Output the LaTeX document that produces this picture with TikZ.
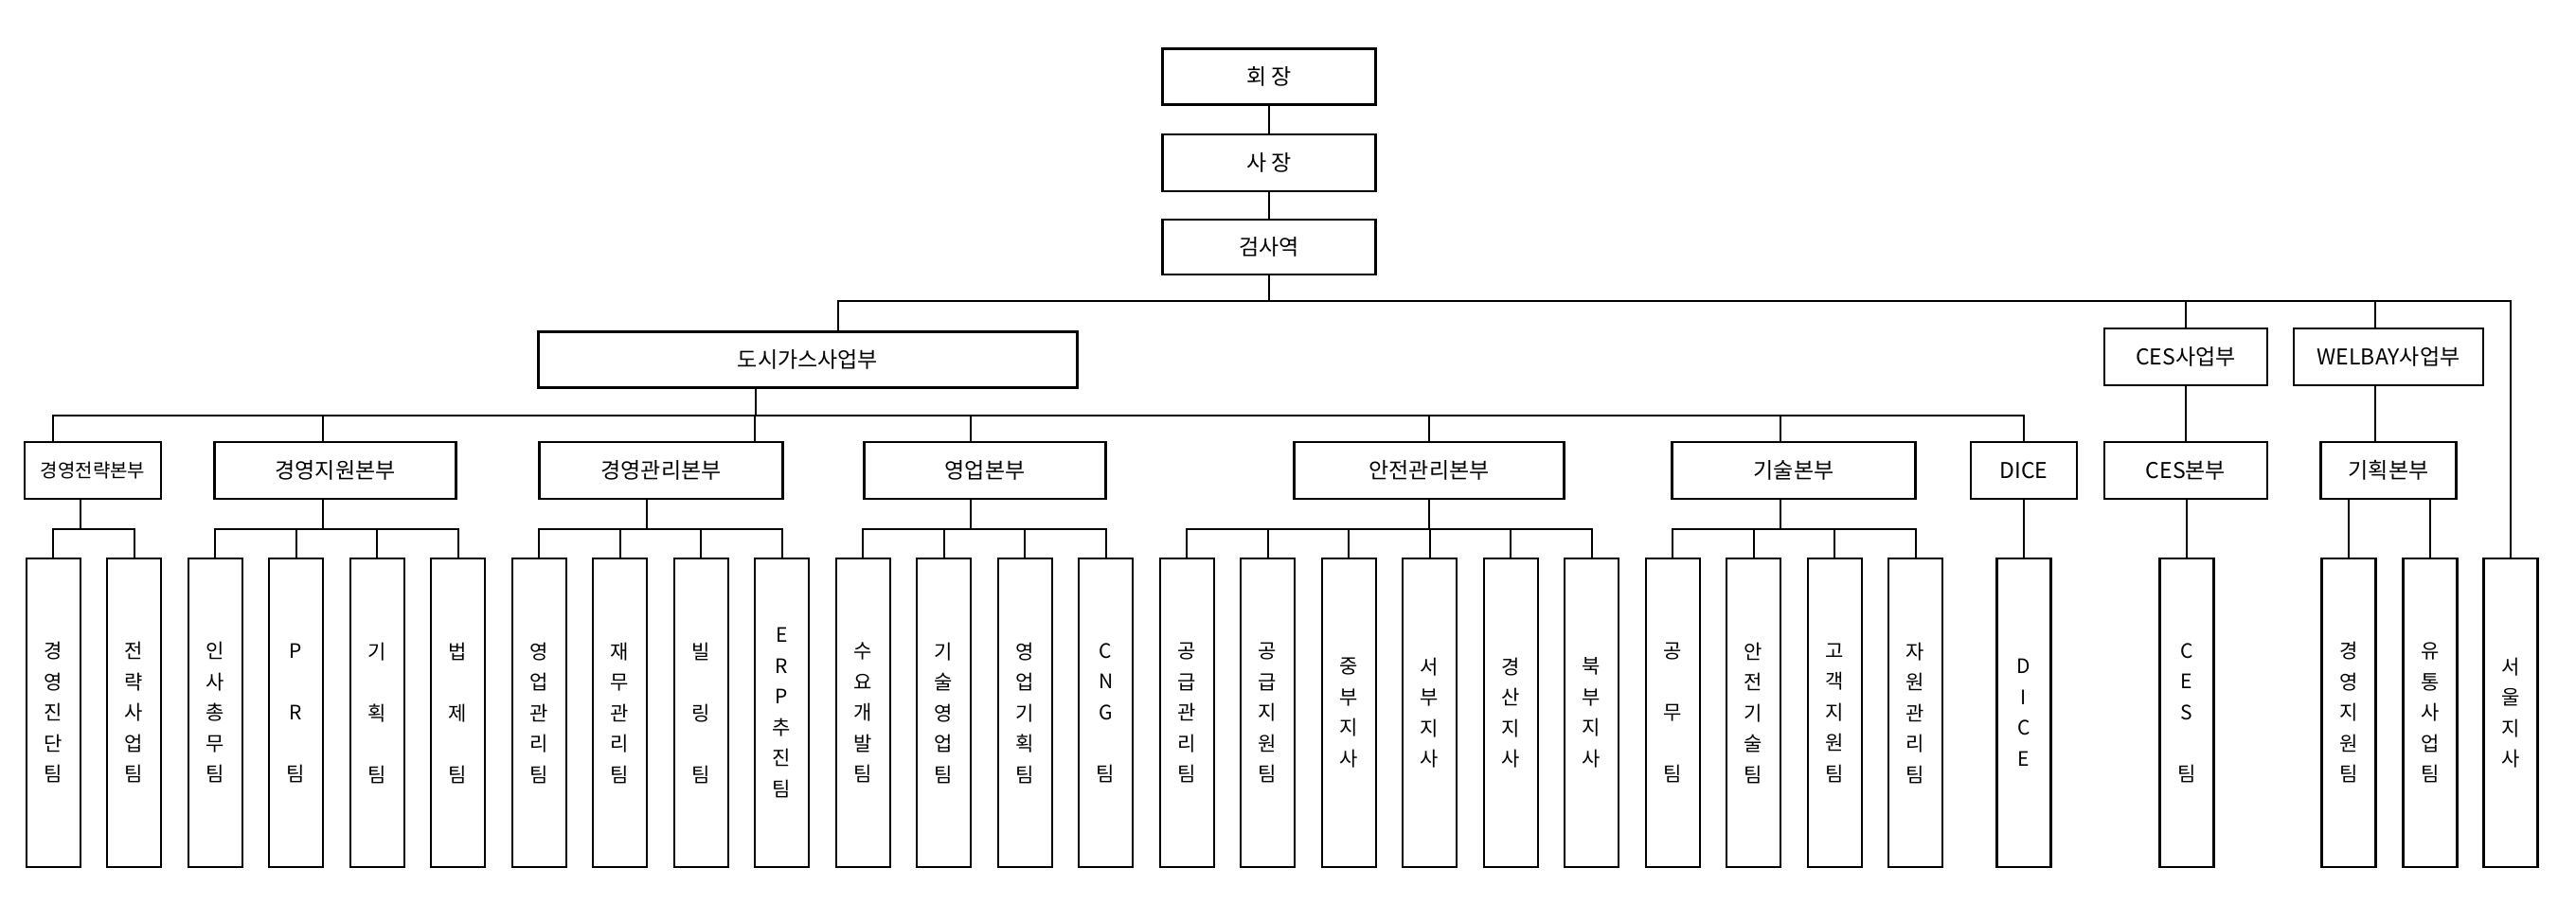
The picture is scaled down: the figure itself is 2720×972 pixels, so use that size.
\documentclass[tikz,border=0pt]{standalone}
\usepackage{fontspec}
\setmainfont{Noto Sans CJK KR}
\begin{document}
\begin{tikzpicture}[x=1pt,y=-1pt,line width=2.2pt,
  box/.style={draw,inner sep=0pt,font=\fontsize{23}{26}\selectfont},
  team/.style={draw,inner sep=0pt,minimum width=57pt,minimum height=326pt,align=center,font=\fontsize{21}{32.5}\selectfont}]
\useasboundingbox (0,0) rectangle (2720,972);
% top
\node[box,minimum width=225pt,minimum height=59pt] (hj) at (1340,81) {회 장};
\node[box,minimum width=225pt,minimum height=60pt] (sj) at (1340,172) {사 장};
\node[box,minimum width=225pt,minimum height=58pt] (gs) at (1340,261) {검사역};
\node[box,minimum width=569pt,minimum height=59pt] (dosi) at (853,380) {도시가스사업부};
\node[box,minimum width=172pt,minimum height=60pt] (ces1) at (2308,377) {CES사업부};
\node[box,minimum width=200pt,minimum height=60pt] (wel) at (2522,377) {WELBAY사업부};
% level 2
\node[box,minimum width=144pt,minimum height=60pt,font=\fontsize{20}{24}\selectfont] (jj) at (98,497) {경영전략본부};
\node[box,minimum width=255pt,minimum height=60pt] (jw) at (354,497) {경영지원본부};
\node[box,minimum width=257pt,minimum height=60pt] (jg) at (698,497) {경영관리본부};
\node[box,minimum width=255pt,minimum height=60pt] (yb) at (1040,497) {영업본부};
\node[box,minimum width=285pt,minimum height=60pt] (an) at (1509,497) {안전관리본부};
\node[box,minimum width=257pt,minimum height=60pt] (gb) at (1894,497) {기술본부};
\node[box,minimum width=112pt,minimum height=60pt] (dice) at (2137,497) {DICE};
\node[box,minimum width=172pt,minimum height=60pt] (ces2) at (2308,497) {CES본부};
\node[box,minimum width=143pt,minimum height=60pt] (gh) at (2522,497) {기획본부};
% teams
\foreach \i/\t in {0/{경\\영\\진\\단\\팀},1/{전\\략\\사\\업\\팀},2/{인\\사\\총\\무\\팀},3/{P\\~\\R\\~\\팀},
  4/{기\\~\\획\\~\\팀},5/{법\\~\\제\\~\\팀},6/{영\\업\\관\\리\\팀},7/{재\\무\\관\\리\\팀},8/{빌\\~\\링\\~\\팀},
  9/{E\\R\\P\\추\\진\\팀},10/{수\\요\\개\\발\\팀},11/{기\\술\\영\\업\\팀},12/{영\\업\\기\\획\\팀},13/{C\\N\\G\\~\\팀},
  14/{공\\급\\관\\리\\팀},15/{공\\급\\지\\원\\팀},16/{중\\부\\지\\사},17/{서\\부\\지\\사},18/{경\\산\\지\\사},19/{북\\부\\지\\사},
  20/{공\\~\\무\\~\\팀},21/{안\\전\\기\\술\\팀},22/{고\\객\\지\\원\\팀},23/{자\\원\\관\\리\\팀}}
  {\node[team] (t\i) at (56.1+85.5*\i,753) {\t};}
\node[team] (tdice) at (2137,753) {D\\I\\C\\E};
\node[team] (tces) at (2309,753) {C\\E\\S\\~\\팀};
\node[team] (tgw) at (2480,753) {경\\영\\지\\원\\팀};
\node[team] (tyt) at (2566,753) {유\\통\\사\\업\\팀};
\node[team] (seoul) at (2651,753) {서\\울\\지\\사};
% connectors top
\draw (hj) -- (sj);
\draw (sj) -- (gs);
\draw (gs.south) -- (gs.south |- 0,318);
\draw (dosi.north -| 885,0) |- (seoul.north |- 0,318) -- (seoul.north);
\draw (ces1.north) -- (ces1.north |- 0,318);
\draw (wel.north -| 2508,0) -- (2508,318);
% level 2 bus
\draw (dosi.south -| 798,0) -- (798,439);
\draw (jj.north -| 56,0) |- (dice.north |- 0,439) -- (dice.north);
\draw (jw.north -| 341,0) -- (341,439);
\draw (jg.north -| 797,0) -- (797,439);
\draw (yb.north -| 1025,0) -- (1025,439);
\draw (an.north) -- (an.north |- 0,439);
\draw (gb.north -| 1880,0) -- (1880,439);
\draw (ces1) -- (ces2);
\draw (wel.south -| 2508,0) -- (gh.north -| 2508,0);
% team buses
\draw (jj.south -| 85,0) -- (85,559);
\draw (t0.north) |- (t1.north |- 0,559) -- (t1.north);
\draw (jw.south -| 341,0) -- (341,559);
\draw (t2.north) |- (t5.north |- 0,559) -- (t5.north);
\foreach \i in {3,4} \draw (t\i.north) -- (t\i.north |- 0,559);
\draw (jg.south -| 683,0) -- (683,559);
\draw (t6.north) |- (t9.north |- 0,559) -- (t9.north);
\foreach \i in {7,8} \draw (t\i.north) -- (t\i.north |- 0,559);
\draw (yb.south -| 1025,0) -- (1025,559);
\draw (t10.north) |- (t13.north |- 0,559) -- (t13.north);
\foreach \i in {11,12} \draw (t\i.north) -- (t\i.north |- 0,559);
\draw (an.south) -- (an.south |- 0,559);
\draw (t14.north) |- (t19.north |- 0,559) -- (t19.north);
\foreach \i in {15,16,17,18} \draw (t\i.north) -- (t\i.north |- 0,559);
\draw (gb.south -| 1880,0) -- (1880,559);
\draw (t20.north) |- (t23.north |- 0,559) -- (t23.north);
\foreach \i in {21,22} \draw (t\i.north) -- (t\i.north |- 0,559);
\draw (dice) -- (tdice);
\draw (ces2.south -| tces.north) -- (tces.north);
\draw (gh.south -| tgw.north) -- (tgw.north);
\draw (gh.south -| tyt.north) -- (tyt.north);
\end{tikzpicture}
\end{document}
